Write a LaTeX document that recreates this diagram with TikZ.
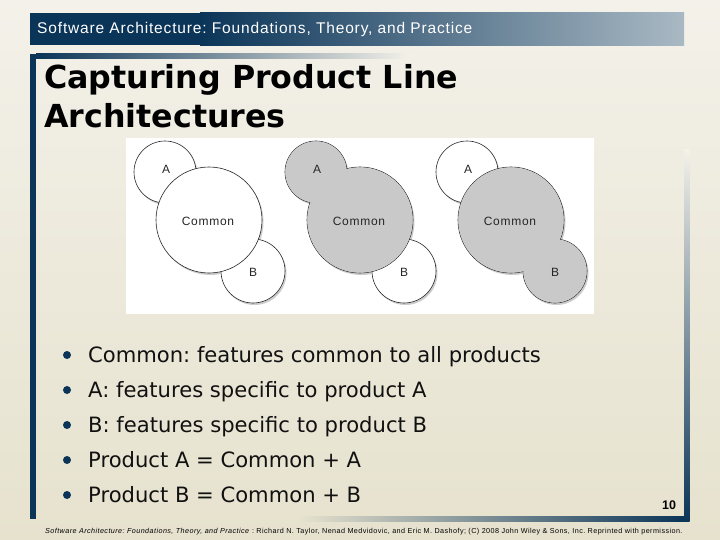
\documentclass[tikz,border=0pt]{standalone}
\usepackage{fontspec}
\setmainfont{Liberation Sans}
\newfontfamily\dejavu{DejaVu Sans}
\definecolor{navy}{HTML}{0B3558}
\definecolor{barlight}{HTML}{A9B9C4}
\definecolor{bgtop}{HTML}{F3F1E9}
\definecolor{bgbot}{HTML}{E6E2CE}
\definecolor{circgrey}{HTML}{C9C9C9}
\definecolor{bodytext}{HTML}{111111}
\frenchspacing
\tikzset{
  circ/.style={circle, inner sep=0pt, draw=black!85, line width=0.6pt},
  shad/.style={fill=black, opacity=0.2},
  lbl/.style={inner sep=0pt, font=\fontsize{12}{14}\selectfont\addfontfeature{LetterSpace=6}, text=black!85},
  bul/.style={circle, fill=navy, inner sep=0pt, minimum size=8pt},
  btext/.style={anchor=base west, inner sep=0pt, text=bodytext, font=\dejavu\fontsize{21.1}{25}\selectfont},
  ttext/.style={anchor=base west, inner sep=0pt, text=black, font=\dejavu\bfseries\fontsize{31.7}{36}\selectfont},
}
\begin{document}
\begin{tikzpicture}[x=1pt,y=-1pt]
\useasboundingbox (0,0) rectangle (720,540);
% background
\fill[top color=bgtop, bottom color=bgbot] (0,0) rectangle (720,540);
% header bar
\fill[navy] (30,13) rectangle (200,45.5);
\fill[left color=navy, right color=barlight] (200,13) rectangle (684,45.5);
\node[anchor=base west, inner sep=0pt, text=white, font=\fontsize{15.5}{18}\selectfont\addfontfeature{LetterSpace=5.5}] (hdr) at (37,34) {Software Architecture: Foundations, Theory, and Practice};
% frame
\fill[navy] (30,54) rectangle (36,519);
\fill[left color=navy, right color=bgtop] (36,54) rectangle (410,59);
\fill[top color=bgtop, bottom color=navy] (684,150) rectangle (689.5,521);
\fill[left color=bgbot, right color=navy] (300,516) rectangle (684,521);
% title
\node[ttext] (t1) at (44,89) {Capturing Product Line};
\node[ttext] (t2) at (44,128) {Architectures};
% diagram panel
\fill[white] (126,138) rectangle (594,314);
% ---- shadows
\foreach \dx in {0,151,302}{
  \fill[shad] (165+\dx+1.5,172+2) circle (31);
  \fill[shad] (209+\dx+1.5,220+2) circle (53);
  \fill[shad] (253+\dx+1.5,271+2) circle (32);
}
% ---- panel 1
\node[circ, fill=white, minimum size=62pt] (p1a) at (165,172) {};
\node[circ, fill=white, minimum size=64pt] (p1b) at (253,271) {};
\node[circ, fill=white, minimum size=106pt] (p1c) at (209,220) {};
% ---- panel 2
\node[circ, fill=white, minimum size=64pt] (p2b) at (404,271) {};
\node[circ, fill=circgrey, minimum size=62pt] (p2a) at (316,172) {};
\node[circ, fill=circgrey, minimum size=106pt] (p2c) at (360,220) {};
\fill[circgrey] (p2a.center) circle (30.7);
\fill[circgrey] (p2c.center) circle (52.7);
% ---- panel 3
\node[circ, fill=white, minimum size=62pt] (p3a) at (467,172) {};
\node[circ, fill=circgrey, minimum size=64pt] (p3b) at (555,271) {};
\node[circ, fill=circgrey, minimum size=106pt] (p3c) at (511,220) {};
\fill[circgrey] (p3b.center) circle (31.7);
\fill[circgrey] (p3c.center) circle (52.7);
% ---- labels
\node[lbl] (l1a) at (166,169) {A};
\node[lbl] (l1c) at (208,221) {Common};
\node[lbl] (l1b) at (253,272) {B};
\node[lbl] (l2a) at (317,169) {A};
\node[lbl] (l2c) at (359,221) {Common};
\node[lbl] (l2b) at (404,272) {B};
\node[lbl] (l3a) at (468,169) {A};
\node[lbl] (l3c) at (510,221) {Common};
\node[lbl] (l3b) at (555,272) {B};
% bullets
\node[bul] (b1) at (67,355) {};
\node[bul] (b2) at (67,390) {};
\node[bul] (b3) at (67,425) {};
\node[bul] (b4) at (67,460) {};
\node[bul] (b5) at (67,495) {};
\node[btext] (s1) at (88,362) {Common: features common to all products};
\node[btext] (s2) at (88,397) {A: features specific to product A};
\node[btext] (s3) at (88,432) {B: features specific to product B};
\node[btext] (s4) at (88,467) {Product A = Common + A};
\node[btext] (s5) at (88,502) {Product B = Common + B};
% page number
\node[inner sep=0pt, font=\bfseries\fontsize{12.5}{14}\selectfont] (pg) at (669,505) {10};
% footer
\node[anchor=base west, inner sep=0pt, text=black, font=\fontsize{7.2}{8}\selectfont\addfontfeature{LetterSpace=6}] (ft) at (45,533) {\textit{Software Architecture: Foundations, Theory, and Practice} : Richard N. Taylor, Nenad Medvidovic, and Eric M. Dashofy; (C) 2008 John Wiley \& Sons, Inc. Reprinted with permission.};
\end{tikzpicture}
\end{document}
